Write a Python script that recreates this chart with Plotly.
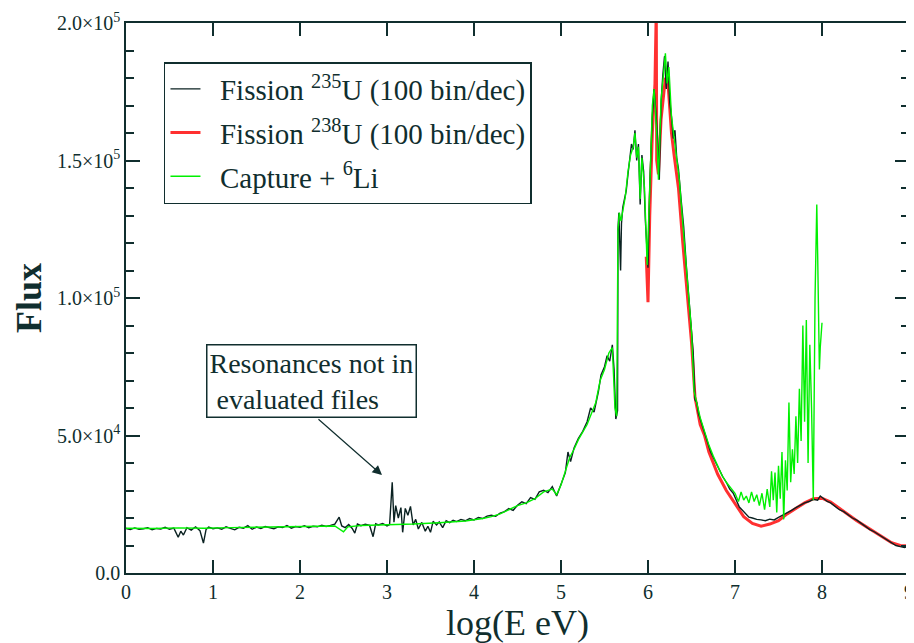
import plotly.graph_objects as go

# ---------------- data ----------------
# Fission 235U (100 bin/dec)  -- black
x_u235 = [0.00, 0.05, 0.10, 0.15, 0.20, 0.25, 0.30, 0.35, 0.40, 0.45, 0.50, 0.55, 0.60, 0.63, 0.66,
          0.70, 0.75, 0.80, 0.85, 0.89, 0.92, 0.95, 1.00, 1.05, 1.10, 1.15, 1.20, 1.25, 1.30, 1.35,
          1.40, 1.45, 1.50, 1.55, 1.60, 1.65, 1.70, 1.75, 1.80, 1.85, 1.90, 1.95, 2.00, 2.05, 2.10,
          2.15, 2.20, 2.25, 2.30, 2.35, 2.40, 2.45, 2.48, 2.52, 2.56, 2.60, 2.63, 2.66, 2.70, 2.75,
          2.80, 2.84, 2.87, 2.90, 2.95, 3.00, 3.03, 3.06, 3.08, 3.10, 3.13, 3.16, 3.18, 3.21, 3.24,
          3.27, 3.30, 3.33, 3.36, 3.40, 3.44, 3.47, 3.50, 3.53, 3.57, 3.60, 3.64, 3.68, 3.72, 3.76,
          3.80, 3.85, 3.90, 3.95, 4.00, 4.05, 4.10, 4.15, 4.20, 4.25, 4.30, 4.35, 4.40, 4.45, 4.50,
          4.55, 4.60, 4.65, 4.70, 4.75, 4.80, 4.85, 4.90, 4.95, 5.00, 5.05, 5.08, 5.11, 5.15, 5.20,
          5.25, 5.30, 5.34, 5.38, 5.43, 5.46, 5.50, 5.53, 5.56, 5.59, 5.61, 5.63, 5.65, 5.655, 5.665,
          5.675, 5.685, 5.695, 5.71, 5.73, 5.75, 5.77, 5.79, 5.81, 5.83, 5.85, 5.87, 5.89, 5.91,
          5.93, 5.95, 5.97, 6.00, 6.02, 6.05, 6.07, 6.09, 6.11, 6.13, 6.15, 6.17, 6.19, 6.21, 6.23,
          6.25, 6.27, 6.29, 6.31, 6.33, 6.35, 6.38, 6.41, 6.44, 6.48, 6.50, 6.52, 6.54, 6.56, 6.58,
          6.60, 6.62, 6.65, 6.68, 6.70, 6.72, 6.75, 6.78, 6.80, 6.83, 6.86, 6.90, 6.94, 6.98, 7.02,
          7.05, 7.08, 7.12, 7.16, 7.20, 7.25, 7.30, 7.35, 7.40, 7.45, 7.50, 7.55, 7.60, 7.65, 7.70,
          7.75, 7.80, 7.85, 7.90, 7.95, 7.98, 8.02, 8.06, 8.10, 8.15, 8.20, 8.25, 8.30, 8.35, 8.40,
          8.45, 8.50, 8.55, 8.60, 8.65, 8.70, 8.75, 8.80, 8.85, 8.90, 8.95, 9.00]
y_u235 = [16200, 15800, 16400, 15900, 16100, 16500, 15700, 16200, 16000, 16600, 15900, 16300, 13000, 15200, 13800,
          16500, 15600, 16800, 15400, 10900, 15800, 16700, 16100, 16400, 15900, 16800, 16200, 15700, 16600, 16300,
          17200, 15900, 16700, 16200, 16900, 16400, 16100, 16800, 16500, 17300, 16300, 16900, 16600, 17200, 16500,
          17000, 16800, 17400, 16900, 17300, 17800, 20300, 17100, 16500, 17600, 16200, 14500, 17800, 17200, 17700,
          17300, 13200, 17900, 17500, 18000, 17100, 17600, 33000, 18500, 24500, 20000, 23800, 14800, 23500, 21000,
          24200, 17500, 19500, 16000, 18400, 15200, 17000, 14800, 18800, 17500, 18600, 16500, 19000, 18300, 19200,
          18700, 19500, 19000, 19800, 19300, 20200, 19800, 20700, 21000, 20600, 21800, 22300, 23400, 22800, 24600,
          25900, 25200, 27400, 26800, 29500, 30100, 29200, 31400, 28000, 32500, 36500, 44000, 40500, 45500, 49000,
          51500, 55000, 60000, 58500, 66000, 72000, 75000, 79000, 77000, 83000, 74000, 56000, 59000, 125000, 131000,
          118000, 110000, 127000, 133000, 136000, 139000, 145000, 150000, 156000, 154000, 161000, 150000, 156000, 134000,
          152000, 146000, 128000, 111000, 141000, 166000, 176000, 168000, 158000, 143000, 171000, 181000, 188000, 176000, 186000,
          171000, 166000, 158000, 161000, 151000, 147000, 136000, 126000, 112000, 97000, 88000, 80000, 63000, 62000, 58000,
          56000, 54000, 51000, 47500, 46000, 44000, 42000, 40000, 38500, 36500, 35000, 33000, 30500, 29000, 26000,
          24000, 23000, 21500, 20300, 20000, 19500, 19300, 19000, 19600, 19300, 20200, 21000, 22000, 22800, 23800,
          24800, 25500, 26000, 26800, 26500, 28000, 27000, 26000, 25500, 24200, 23000, 22300, 21000, 20000, 19200,
          18000, 16800, 15800, 15000, 14000, 13000, 11800, 10800, 10000, 9600, 9300, 9900]

# Fission 238U (100 bin/dec)  -- red
x_u238 = [5.98, 6.00, 6.02, 6.05, 6.08, 6.09, 6.095, 6.10, 6.12, 6.15, 6.20, 6.23, 6.27, 6.30, 6.35,
          6.40, 6.45, 6.50, 6.54, 6.60, 6.65, 6.70, 6.75, 6.80, 6.90, 7.00, 7.10, 7.20, 7.30, 7.40,
          7.50, 7.60, 7.70, 7.80, 7.90, 8.00, 8.10, 8.20, 8.30, 8.40, 8.50, 8.60, 8.70, 8.80, 8.90, 9.00]
y_u238 = [115000, 98500, 130000, 160000, 178000, 205000, 205000, 150000, 145000, 165000, 180000, 178000, 160000, 152000, 140000,
          120000, 103000, 84000, 64000, 54000, 50000, 44000, 40000, 36000, 30000, 25000, 20500, 18000, 17000, 17800,
          19000, 21500, 23500, 25500, 27000, 27200, 25800, 23500, 21000, 19000, 17000, 15000, 13000, 11000, 10000, 9800]

# Capture + 6Li  -- green
x_li = [0.0, 0.3, 0.6, 0.9, 1.2, 1.5, 1.8, 2.1, 2.4, 2.5, 2.55, 2.7, 3.0, 3.3, 3.6, 3.9, 4.1, 4.2, 4.3, 4.4,
        4.5, 4.6, 4.7, 4.8, 4.9, 4.95, 5.0, 5.05, 5.1, 5.15, 5.2, 5.3, 5.4, 5.45, 5.5, 5.55, 5.59, 5.62, 5.64, 5.655,
        5.67, 5.69, 5.71, 5.74, 5.77, 5.80, 5.83, 5.85, 5.87, 5.89, 5.91, 5.93, 5.96, 5.99, 6.02, 6.05, 6.07, 6.10, 6.12, 6.15,
        6.18, 6.20, 6.22, 6.24, 6.27, 6.30, 6.33, 6.36, 6.40, 6.44, 6.48, 6.50, 6.53, 6.56, 6.60, 6.65, 6.70, 6.75, 6.80, 6.85,
        6.90, 6.95, 7.00, 7.04, 7.07, 7.10, 7.13, 7.16, 7.19, 7.22, 7.25, 7.28, 7.31, 7.34, 7.37, 7.40, 7.42, 7.44, 7.46, 7.48,
        7.50, 7.52, 7.54, 7.56, 7.58, 7.60, 7.62, 7.64, 7.66, 7.68, 7.70, 7.72, 7.74, 7.76, 7.78, 7.80, 7.82, 7.84, 7.86, 7.88,
        7.90, 7.92, 7.94, 7.95, 7.96, 7.97, 7.98, 8.00]
y_li = [16300, 16200, 16400, 16300, 16500, 16600, 16800, 16900, 17100, 15000, 16800, 17300, 17500, 17800, 18300, 18900, 19800, 20500, 21500, 23000,
        24500, 25500, 27000, 29500, 30500, 28500, 32000, 37000, 42000, 45000, 48500, 54000, 62000, 70000, 74000, 80000, 82000, 60000, 57000, 125000,
        131000, 128000, 132000, 137000, 146000, 152000, 155000, 160000, 151000, 155000, 136000, 151000, 140000, 112000, 140000, 170000, 176000, 160000, 143000, 172000,
        182000, 189000, 178000, 184000, 166000, 158000, 152000, 143000, 127000, 112000, 97000, 88000, 66000, 62000, 56500, 51500, 46500, 42500, 39000, 35500,
        33000, 31000, 29000, 26000, 29500, 26500, 28000, 25500, 29500, 26000, 28500, 24500, 29000, 23000, 30500, 24000, 37000, 26500, 36500, 22000,
        39000, 27000, 44000, 19500, 41000, 30000, 62000, 33000, 45000, 36000, 57000, 40000, 67000, 48000, 90000, 55000, 92000, 40000, 83000, 60000,
        26500, 100000, 134000, 116000, 96000, 74000, 82000, 91000]

y_tick_vals = [0, 50000, 100000, 150000, 200000]
y_tick_text = ["0.0", "5.0\u00d710<sup>4</sup>", "1.0\u00d710<sup>5</sup>", "1.5\u00d710<sup>5</sup>", "2.0\u00d710<sup>5</sup>"]
x_tick_vals = [0, 1, 2, 3, 4, 5, 6, 7, 8, 9]

# ---------------- figure ----------------
INK = "#102e2e"
SERIF = "Liberation Serif, Times New Roman, serif"
PAD = "\u00a0\u00a0"

fig = go.Figure()
fig.add_trace(go.Scatter(x=x_u238, y=y_u238, mode="lines", name=PAD + "Fission <sup>238</sup>U (100 bin/dec)",
                         line=dict(color="#ff3030", width=3), legendrank=2, legendgroup="b"))
fig.add_trace(go.Scatter(x=x_u235, y=y_u235, mode="lines", name=PAD + "Fission <sup>235</sup>U (100 bin/dec)",
                         line=dict(color="#0b2222", width=1.4), legendrank=1, legendgroup="a"))
fig.add_trace(go.Scatter(x=x_li, y=y_li, mode="lines", name=PAD + "Capture + <sup>6</sup>Li",
                         line=dict(color="#00f000", width=1.4), legendrank=3, legendgroup="c"))

# the page body has an 8px margin, so the figure is 8px smaller than the window
fig.update_layout(
    width=906, height=635,
    margin=dict(l=118, r=5, t=15, b=70),
    paper_bgcolor="white", plot_bgcolor="white",
    font=dict(family=SERIF, color=INK),
    showlegend=True,
    legend=dict(x=0.0485, y=0.929, xanchor="left", yanchor="top",
                bordercolor=INK, borderwidth=1.5, bgcolor="white", tracegroupgap=3,
                font=dict(family=SERIF, size=29, color=INK), itemwidth=30),
    xaxis=dict(range=[0, 9], tickmode="array", tickvals=x_tick_vals, automargin=False,
               ticks="inside", ticklen=13, tickwidth=1.5, tickcolor=INK,
               showline=True, linecolor=INK, linewidth=1.5, mirror="ticks",
               showgrid=False, zeroline=False,
               tickfont=dict(family=SERIF, size=20, color=INK),
               title=dict(text="log(E eV)", font=dict(family=SERIF, size=36, color=INK), standoff=3)),
    yaxis=dict(range=[0, 200000], tickmode="array", tickvals=y_tick_vals, ticktext=y_tick_text, automargin=False,
               ticks="inside", ticklen=14, tickwidth=1.5, tickcolor=INK,
               minor=dict(tickmode="linear", tick0=0, dtick=10000, ticks="inside", ticklen=8, tickwidth=1.5, tickcolor=INK),
               showline=True, linecolor=INK, linewidth=1.5, mirror="ticks",
               showgrid=False, zeroline=False,
               tickfont=dict(family=SERIF, size=20, color=INK),
               title=dict(text="<b>Flux</b>", font=dict(family=SERIF, size=36, color=INK), standoff=4)),
)

# annotation box and arrow
fig.add_annotation(x=2.13, y=69800, xref="x", yref="y", showarrow=False,
                   text="Resonances not in<br> evaluated files", align="left",
                   font=dict(family=SERIF, size=28, color=INK),
                   bordercolor=INK, borderwidth=1.5, borderpad=2, bgcolor="white")
fig.add_annotation(x=2.943, y=35600, ax=2.195, ay=56400, xref="x", yref="y", axref="x", ayref="y",
                   text="", showarrow=True, arrowhead=2, arrowsize=1.6, arrowwidth=1.2, arrowcolor=INK)

fig.write_html("out.html")
